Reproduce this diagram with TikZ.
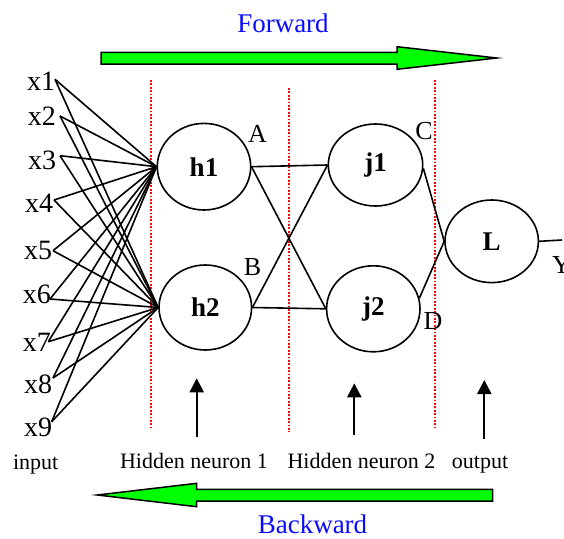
\documentclass[tikz,border=0pt]{standalone}
\usepackage{fontspec}
\setmainfont{Liberation Serif}
\usetikzlibrary{arrows.meta,shapes.geometric}
\definecolor{fgreen}{RGB}{0,255,0}
\definecolor{fblue}{RGB}{10,10,255}
\tikzset{
  neuron/.style={draw, line width=1.6pt, ellipse, inner sep=0pt, font=\fontsize{27}{30}\selectfont\bfseries},
  xl/.style={anchor=base west, inner sep=0pt, font=\fontsize{28}{30}\selectfont},
  pl/.style={anchor=base, inner sep=0pt, font=\fontsize{26}{30}\selectfont},
  captxt/.style={anchor=base, inner sep=0pt, font=\fontsize{22}{26}\selectfont},
  dirl/.style={anchor=base, inner sep=0pt, text=fblue, font=\fontsize{27}{30}\selectfont},
  wire/.style={line width=1.6pt},
  sep/.style={draw=red, line width=2.2pt, dash pattern=on 1.8pt off 1.6pt},
  bigarrow/.style={draw=black, line width=1.5pt, fill=fgreen, line join=miter},
  uparrow/.style={line width=2.2pt, -{Triangle[width=14pt,length=14pt]}}
}
\begin{document}
\begin{tikzpicture}[x=1pt,y=-1pt]
\useasboundingbox (0,0) rectangle (564,538);
% direction arrows
\draw[bigarrow] (101,52.3) -- (397,52.3) -- (397,46.7) -- (496.7,58) -- (397,69.3) -- (397,64) -- (101,64) -- cycle;
\draw[bigarrow] (97.3,495) -- (196.7,483.3) -- (196.7,489.3) -- (492.7,489.3) -- (492.7,501) -- (196.7,501) -- (196.7,506.7) -- cycle;
\node[dirl] (fw) at (283,32) {Forward};
\node[dirl] (bw) at (312.5,533) {Backward};
% separators
\draw[sep] (151,80) -- (151,428);
\draw[sep] (289,88) -- (289,432);
\draw[sep] (435,80) -- (435,427);
% neurons
\node[neuron, minimum width=93.4pt, minimum height=86.6pt] (h1) at (204,166.7) {h1};
\node[neuron, minimum width=92.6pt, minimum height=85pt] (h2) at (205.3,307.5) {h2};
\node[neuron, minimum width=94.4pt, minimum height=82pt] (j1) at (375.5,165) {j1};
\node[neuron, minimum width=93.4pt, minimum height=86pt] (j2) at (373.3,308.8) {j2};
\node[neuron, minimum width=93.4pt, minimum height=82.6pt] (L) at (491.7,241.3) {L};
% inputs
\node[xl] (x1) at (27,90) {x1};
\node[xl] (x2) at (27.7,125) {x2};
\node[xl] (x3) at (28,169) {x3};
\node[xl] (x4) at (25,212.7) {x4};
\node[xl] (x5) at (24,259) {x5};
\node[xl] (x6) at (22.7,303) {x6};
\node[xl] (x7) at (22.7,351.7) {x7};
\node[xl] (x8) at (24,393) {x8};
\node[xl] (x9) at (24,436) {x9};
\coordinate (p1) at (55,79.3);
\coordinate (p2) at (60,116);
\coordinate (p3) at (60,155.7);
\coordinate (p4) at (54,200);
\coordinate (p5) at (53,250.7);
\coordinate (p6) at (50,299);
\coordinate (p7) at (48.3,341.7);
\coordinate (p8) at (53,378);
\coordinate (p9) at (51.7,421.7);
\foreach \i in {1,...,9}{
  \draw[wire] (p\i) -- (h1.west);
  \draw[wire] (p\i) -- (h2.west);
}
% hidden connections
\draw[wire] (h1.east) -- (j1.west);
\draw[wire] (h1.east) -- (j2.west);
\draw[wire] (h2.east) -- (j1.west);
\draw[wire] (h2.east) -- (j2.west);
\draw[wire] (j1.-4) -- (L.west);
\draw[wire] (j2.13) -- (L.west);
\coordinate (yend) at (562,240);
\draw[wire] (L.east) -- (yend);
% point labels
\node[pl] (A) at (257.5,142) {A};
\node[pl] (B) at (252.5,275.7) {B};
\node[pl] (C) at (424,139) {C};
\node[pl] (D) at (433,329) {D};
\node[pl, anchor=base west] (Y) at (552,273) {Y};
% captions
\node[captxt] (in) at (35.7,469) {input};
\node[captxt] (hn1) at (194,468) {Hidden neuron 1};
\node[captxt] (hn2) at (361.5,468) {Hidden neuron 2};
\node[captxt] (out) at (480,468) {output};
% up arrows
\coordinate (a1s) at (196.7,436.7);
\coordinate (a1e) at (196.7,378.3);
\coordinate (a2s) at (354.3,435);
\coordinate (a2e) at (354.3,383.3);
\coordinate (a3s) at (484.3,439);
\coordinate (a3e) at (484.3,380);
\draw[uparrow] (a1s) -- (a1e);
\draw[uparrow] (a2s) -- (a2e);
\draw[uparrow] (a3s) -- (a3e);
\end{tikzpicture}
\end{document}
